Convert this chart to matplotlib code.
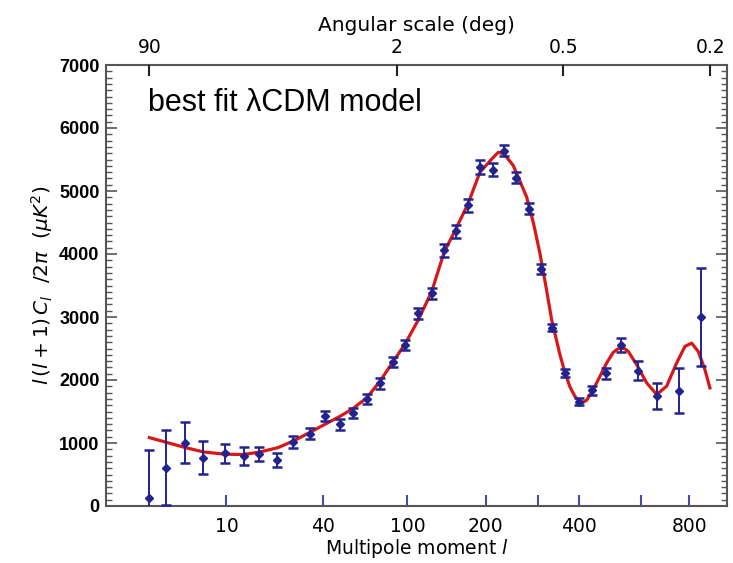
import numpy as np
import matplotlib.pyplot as plt
from matplotlib.ticker import MultipleLocator, FixedLocator, NullLocator

# binned band powers: multipole, l(l+1)C_l/2pi in uK^2, 1-sigma error
ell_data = [2, 3, 4.6, 6.6, 9.7, 13.3, 17, 22, 27.5, 34, 41, 49, 57, 66,
            76, 87, 98, 111, 126, 141, 156, 173, 191, 212, 232, 254, 280,
            306, 332, 364, 401, 437, 480, 528, 587, 660, 753, 854]
power_data = [130, 610, 1005, 765, 835, 790, 830, 730, 1020, 1150, 1430, 1295, 1470, 1705,
              1945, 2290, 2560, 3060, 3375, 4060, 4360, 4770, 5380, 5340, 5640, 5210, 4720,
              3765, 2830, 2110, 1655, 1835, 2110, 2555, 2150, 1740, 1830, 3000]
power_err = [760, 600, 330, 260, 150, 145, 110, 108, 92, 92, 80, 90, 80, 80,
             80, 80, 80, 90, 90, 100, 105, 105, 105, 100, 90, 85, 85,
             75, 60, 63, 58, 71, 87, 110, 145, 205, 355, 770]

# best fit lambda-CDM curve
ell_model = [2, 3.1, 4.6, 6.6, 9.7, 13.3, 17.2, 22.3, 27.5, 33.9,
             41, 48.7, 56.7, 66.1, 76, 86.8, 97.7, 111, 125.6, 140.7,
             156, 172.9, 190.9, 211.8, 221.3, 231.6, 248.9, 275.6, 290.2, 304.1,
             317.8, 331.1, 351.2, 363.7, 376.7, 389.9, 400.7, 411.9, 422.3, 441.4,
             461.5, 482.2, 503.3, 517.1, 531.2, 542.4, 553.9, 583.8, 621, 659.9,
             700.6, 743.2, 780, 810.6, 841.8, 874.2, 899]
power_model = [1085, 1006, 927, 858, 822, 817, 858, 927, 1032, 1164,
               1296, 1417, 1544, 1717, 1980, 2290, 2570, 2955, 3402, 4034,
               4403, 4798, 5298, 5525, 5614, 5589, 5404, 4903, 4480, 4008,
               3480, 2955, 2400, 2120, 1890, 1740, 1665, 1645, 1680, 1849,
               2059, 2270, 2438, 2490, 2507, 2495, 2454, 2244, 1954, 1770,
               1901, 2270, 2533, 2586, 2454, 2165, 1875]

# tick labels
ell_ticks = [10, 40, 100, 200, 300, 400, 600, 800]
ell_labels = ['10', '40', '100', '200', '', '400', '', '800']
angle_ticks = [90, 2, 0.5, 0.2]

blue = '#23238f'
red = '#d81818'
spine_col = '#555555'


# x axis is stretched as l^(1/4)
def fwd(l):
    return np.sign(l) * np.abs(l) ** 0.25


def inv(x):
    return np.sign(x) * np.abs(x) ** 4


fig = plt.figure(figsize=(7.33, 5.63), dpi=100)
ax = fig.add_axes([106.5 / 733, 1 - 506 / 563, (727 - 106.5) / 733, (506 - 65) / 563])
ax.set_xscale('function', functions=(fwd, inv))
ax.set_xlim(0.55, 988)
ax.set_ylim(0, 7000)

ax.plot(ell_model, power_model, color=red, lw=2.3, zorder=3)
ax.errorbar(ell_data, power_data, yerr=power_err, fmt='D', ms=4.2, color=blue,
            ecolor=blue, elinewidth=1.4, capsize=3.8, capthick=1.8, zorder=4)

# bottom axis
ax.xaxis.set_major_locator(FixedLocator(ell_ticks))
ax.set_xticklabels(ell_labels)
ax.xaxis.set_minor_locator(NullLocator())
ax.tick_params(axis='x', direction='in', length=8, width=1.5, color='#4a4aaa',
               labelsize=13.5, pad=8)
ax.set_xlabel(r'Multipole moment $l$', fontsize=13.5, labelpad=1)

# y axis
ax.yaxis.set_major_locator(MultipleLocator(1000))
ax.yaxis.set_minor_locator(MultipleLocator(100))
ax.tick_params(axis='y', which='major', direction='in', length=8, width=1.2,
               color=spine_col, right=True, pad=5)
ax.tick_params(axis='y', which='minor', direction='in', length=4, width=1.0,
               color=spine_col, right=True)
for lab in ax.get_yticklabels():
    lab.set_fontfamily('Liberation Sans')
    lab.set_fontweight('bold')
    lab.set_fontsize(13)
ax.set_ylabel(r'$l\,(l+1)\,C_l\ \ /2\pi\ \ (\mu K^2)$', fontsize=14.5, labelpad=3)

for s in ax.spines.values():
    s.set_color(spine_col)
    s.set_linewidth(1.5)

# top axis: angular scale theta = 180/l
ax_top = ax.twiny()
ax_top.set_xscale('function', functions=(fwd, inv))
ax_top.set_xlim(ax.get_xlim())
ax_top.xaxis.set_major_locator(FixedLocator([180 / a for a in angle_ticks]))
ax_top.set_xticklabels([str(a) for a in angle_ticks])
ax_top.xaxis.set_minor_locator(NullLocator())
ax_top.tick_params(axis='x', direction='in', length=8, width=1.5, color='#222222',
                   labelsize=13.5, pad=6)
ax_top.set_xlabel('Angular scale (deg)', fontsize=14.5, labelpad=5)
for s in ax_top.spines.values():
    s.set_visible(False)

fig.text(148 / 733, 1 - 103 / 563, 'best fit λCDM model', fontsize=22,
         family='Liberation Sans', ha='left', va='center')

fig.savefig('out.png', dpi=100)
